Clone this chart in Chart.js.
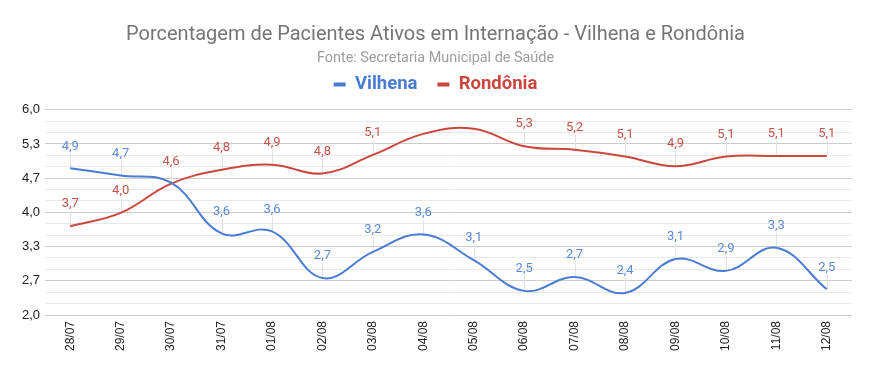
<!DOCTYPE html>
<html>
<head>
<meta charset="utf-8">
<script src="https://cdn.jsdelivr.net/npm/chart.js@4"></script>
<style>
  html, body { margin: 0; padding: 0; background: #fff; }
  #wrap { width: 871px; height: 371px; position: relative; }
</style>
</head>
<body>
<div id="wrap"><canvas id="chart"></canvas></div>
<script>
const dates = ['28/07', '29/07', '30/07', '31/07', '01/08', '02/08', '03/08', '04/08',
  '05/08', '06/08', '07/08', '08/08', '09/08', '10/08', '11/08', '12/08'];
const vilhena = [4.86, 4.72, 4.58, 3.59, 3.63, 2.72, 3.23, 3.57, 3.07, 2.47, 2.74, 2.43, 3.09, 2.86, 3.31, 2.50];
const rondonia = [3.73, 3.99, 4.56, 4.83, 4.93, 4.76, 5.12, 5.53, 5.63, 5.29, 5.22, 5.09, 4.90, 5.09, 5.10, 5.10];
// points whose value label is not shown in the original
const vilhenaHidden = [2];
const rondoniaHidden = [7, 8];
const yTickLabels = ['2,0', '2,7', '3,3', '4,0', '4,7', '5,3', '6,0'];

const BLUE = '#4a7cd1';
const RED = '#c9473d';

const fmt = v => v.toFixed(1).replace('.', ',');

// value labels with a thin leader line down to the point
const valueLabels = {
  id: 'valueLabels',
  beforeDatasetsDraw(chart) {
    const ctx = chart.ctx;
    ctx.save();
    ctx.strokeStyle = '#e2e2e2';
    ctx.lineWidth = 1;
    chart.data.datasets.forEach((ds, di) => {
      chart.getDatasetMeta(di).data.forEach((pt, i) => {
        if (ds.hidden_labels.includes(i)) return;
        const x = Math.round(pt.x) + 0.5;
        ctx.beginPath();
        ctx.moveTo(x, pt.y - 15);
        ctx.lineTo(x, pt.y);
        ctx.stroke();
      });
    });
    ctx.restore();
  },
  afterDatasetsDraw(chart) {
    const ctx = chart.ctx;
    ctx.save();
    ctx.font = '13px Roboto';
    ctx.textAlign = 'center';
    ctx.textBaseline = 'middle';
    chart.data.datasets.forEach((ds, di) => {
      ctx.fillStyle = ds.labelColor;
      chart.getDatasetMeta(di).data.forEach((pt, i) => {
        if (ds.hidden_labels.includes(i)) return;
        ctx.fillText(fmt(ds.data[i]), pt.x, pt.y - 22);
      });
    });
    ctx.restore();
  }
};

// a bit more room between the legend and the plot
const legendGap = {
  id: 'legendGap',
  beforeInit(chart) {
    const fit = chart.legend.fit;
    chart.legend.fit = function () {
      fit.call(this);
      this.height += 6;
    };
  }
};

new Chart(document.getElementById('chart'), {
  type: 'line',
  data: {
    labels: dates,
    datasets: [
      {
        label: 'Vilhena',
        data: vilhena,
        borderColor: BLUE,
        backgroundColor: BLUE,
        labelColor: '#5a8bd6',
        hidden_labels: vilhenaHidden,
        borderWidth: 2,
        pointRadius: 0,
        tension: 0.4
      },
      {
        label: 'Rondônia',
        data: rondonia,
        borderColor: RED,
        backgroundColor: RED,
        labelColor: '#c5544a',
        hidden_labels: rondoniaHidden,
        borderWidth: 2,
        pointRadius: 0,
        tension: 0.4
      }
    ]
  },
  options: {
    responsive: true,
    maintainAspectRatio: false,
    animation: false,
    layout: { padding: 0 },
    plugins: {
      title: {
        display: true,
        text: 'Porcentagem de Pacientes Ativos em Internação - Vilhena e Rondônia',
        color: '#757575',
        font: { family: 'Roboto', size: 20, weight: 'normal' },
        padding: { top: 23, bottom: 0 }
      },
      subtitle: {
        display: true,
        text: 'Fonte: Secretaria Municipal de Saúde',
        color: '#9e9e9e',
        font: { family: 'Roboto', size: 14.4, weight: 'normal' },
        padding: { top: 3, bottom: -12 }
      },
      legend: {
        display: true,
        position: 'top',
        labels: {
          boxWidth: 12,
          boxHeight: 4,
          padding: 20,
          font: { family: 'Roboto', size: 18.5, weight: 'bold' },
          generateLabels: chart => chart.data.datasets.map((ds, i) => ({
            text: ds.label,
            fillStyle: ds.borderColor,
            strokeStyle: ds.borderColor,
            lineWidth: 0,
            fontColor: ds.borderColor,
            datasetIndex: i
          }))
        }
      },
      tooltip: { enabled: false }
    },
    scales: {
      x: {
        offset: true,
        grid: { display: false, drawTicks: false },
        border: { display: false },
        ticks: {
          color: '#222',
          font: { family: 'Liberation Sans', size: 12 },
          minRotation: 90,
          maxRotation: 90,
          padding: 6,
          autoSkip: false
        },
        afterFit: scale => { scale.height = 56; }
      },
      y: {
        min: 2,
        max: 6,
        border: { display: false },
        grid: {
          drawTicks: false,
          color: ctx => ctx.index % 3 === 0 ? '#cccccc' : '#e9e9e9'
        },
        ticks: {
          color: '#222',
          font: { family: 'Liberation Sans', size: 13 },
          padding: 5,
          autoSkip: false,
          callback: (v, i) => i % 3 === 0 ? yTickLabels[i / 3] : ''
        },
        afterBuildTicks: scale => {
          const t = [];
          for (let i = 0; i <= 18; i++) t.push({ value: 2 + i * 4 / 18 });
          scale.ticks = t;
        },
        afterFit: scale => { scale.width = 45; }
      },
      // empty strip on the right so the plot stops where the original does
      yRight: {
        position: 'right',
        grid: { display: false, drawTicks: false },
        border: { display: false },
        ticks: { display: false },
        afterFit: scale => { scale.width = 19; }
      }
    }
  },
  plugins: [valueLabels, legendGap]
});
</script>
</body>
</html>
